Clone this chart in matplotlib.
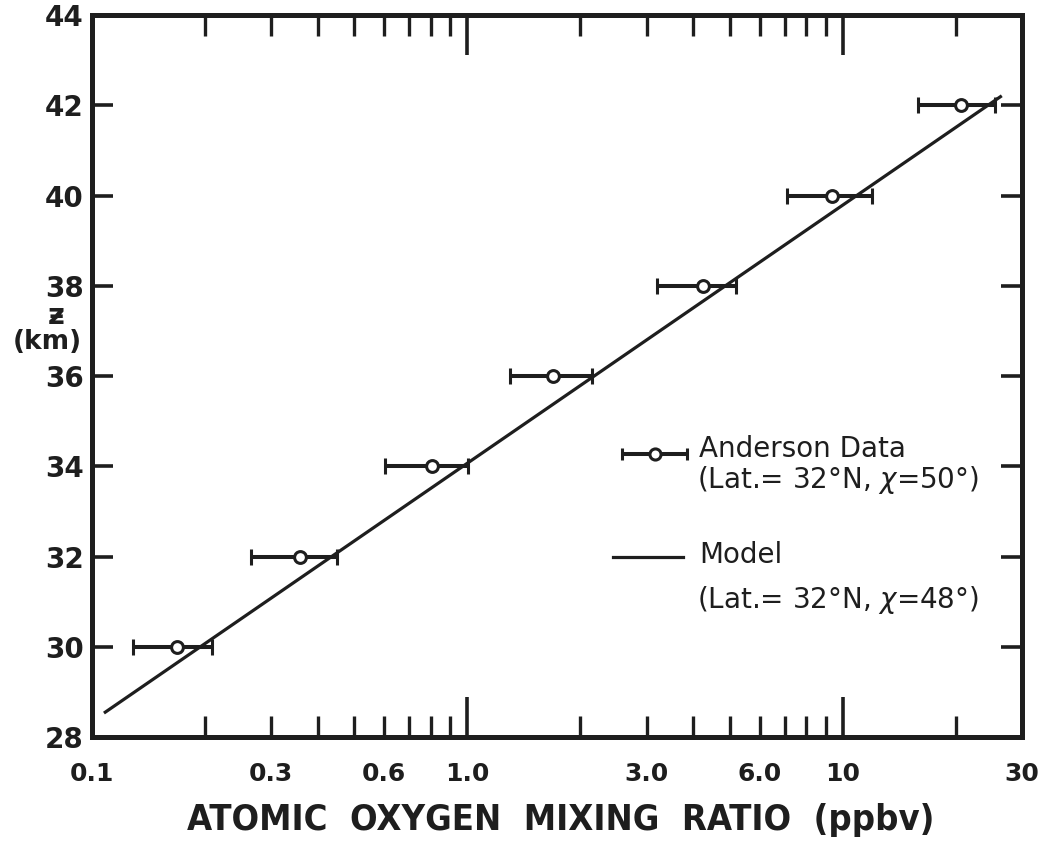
import matplotlib
matplotlib.use("Agg")
import matplotlib.pyplot as plt
from matplotlib.ticker import FixedLocator, NullFormatter

# Measured atomic oxygen mixing ratios (ppbv) vs altitude (km)
altitude = [30, 32, 34, 36, 38, 40, 42]
mixing_ratio = [0.168, 0.358, 0.805, 1.69, 4.24, 9.35, 20.6]
err_low = [0.1286, 0.265, 0.603, 1.298, 3.20, 7.10, 15.85]
err_high = [0.2087, 0.449, 1.003, 2.146, 5.19, 11.95, 25.4]

# Model profile (straight on log-x axes)
model_x = [0.1076, 26.5]
model_z = [28.53, 42.21]

x_tick_values = [0.1, 0.3, 0.6, 1.0, 3.0, 6.0, 10, 30]
x_tick_labels = ["0.1", "0.3", "0.6", "1.0", "3.0", "6.0", "10", "30"]
y_ticks = [28, 30, 32, 34, 36, 38, 40, 42, 44]

# Legend sample positions (data units)
legend_err_x, legend_err_lo, legend_err_hi, legend_err_z = 3.16, 2.58, 3.85, 34.27
legend_line_x, legend_line_z = [2.44, 3.75], 32.0

plt.rcParams["font.family"] = ["DejaVu Sans"]

W, H = 1047, 846
fig = plt.figure(figsize=(W / 100, H / 100), dpi=100)
ax = fig.add_axes([92 / W, 1 - 737 / H, 930 / W, 722 / H])


def px(x, y):
    return x / W, 1 - y / H


ink = "#1e1e1e"
ax.set_xscale("log")
ax.set_xlim(0.1, 30)
ax.set_ylim(28, 44)

ax.plot(model_x, model_z, color=ink, lw=2.3, solid_capstyle="butt")

xerr = [[m - lo for m, lo in zip(mixing_ratio, err_low)],
        [hi - m for m, hi in zip(mixing_ratio, err_high)]]
ax.errorbar(mixing_ratio, altitude, xerr=xerr, fmt="o", color=ink,
            ecolor=ink, elinewidth=2.9, capsize=5.5, capthick=2.9,
            ms=8.5, mfc="white", mec=ink, mew=2.2, zorder=3)

for s in ax.spines.values():
    s.set_linewidth(3.6)
    s.set_color(ink)

# x ticks: long ticks at 1 and 10, short ticks at the other integers
major_x = [1.0, 10.0]
minor_x = sorted(set(round(v * d, 4) for d in (0.1, 1, 10)
                     for v in range(2, 10) if v * d < 30))
ax.xaxis.set_major_locator(FixedLocator(major_x))
ax.xaxis.set_minor_locator(FixedLocator(minor_x))
ax.xaxis.set_major_formatter(NullFormatter())
ax.xaxis.set_minor_formatter(NullFormatter())
ax.tick_params(axis="x", which="major", direction="in", length=29, width=2.6,
               top=True, bottom=True, color=ink)
ax.tick_params(axis="x", which="minor", direction="in", length=15, width=2.4,
               top=True, bottom=True, color=ink)

ax.set_yticks(y_ticks)
ax.set_yticklabels([str(v) for v in y_ticks])
ax.tick_params(axis="y", which="major", direction="in", length=15, width=2.6,
               left=True, right=True, color=ink, labelsize=20, pad=6,
               labelcolor=ink)
for lab in ax.get_yticklabels():
    lab.set_fontweight("bold")

# x tick labels centred on their ticks
for v, t in zip(x_tick_values, x_tick_labels):
    ax.text(v, (737 - 774) / 722, t, transform=ax.get_xaxis_transform(),
            ha="center", va="center", fontsize=18, fontweight="bold",
            color=ink)

fig.text(*px(561, 820), "ATOMIC  OXYGEN  MIXING  RATIO  (ppbv)",
         ha="center", va="center", fontsize=26, fontweight="bold",
         fontstretch="condensed", color=ink)

fig.text(*px(56, 324), "ƶ", ha="center", va="baseline",
         fontsize=21, fontweight="bold", color=ink)
fig.text(*px(47, 342), "(km)", ha="center", va="center",
         fontsize=19, fontweight="bold", color=ink)

# Legend drawn inside the axes
ax.errorbar([legend_err_x], [legend_err_z],
            xerr=[[legend_err_x - legend_err_lo], [legend_err_hi - legend_err_x]],
            fmt="o", color=ink, ecolor=ink, elinewidth=2.9, capsize=4.3,
            capthick=2.9, ms=8, mfc="white", mec=ink, mew=2.2, zorder=3)
ax.plot(legend_line_x, [legend_line_z] * 2, color=ink, lw=2.3)

legend_font = dict(fontsize=20, color=ink, ha="left", va="baseline")
fig.text(*px(699, 457), "Anderson Data", **legend_font)
fig.text(*px(697, 488), "(Lat.= 32°N, $\\chi$=50°)", **legend_font)
fig.text(*px(699, 563), "Model", **legend_font)
fig.text(*px(697, 608), "(Lat.= 32°N, $\\chi$=48°)", **legend_font)

fig.savefig("out.png", dpi=100, facecolor="white")
